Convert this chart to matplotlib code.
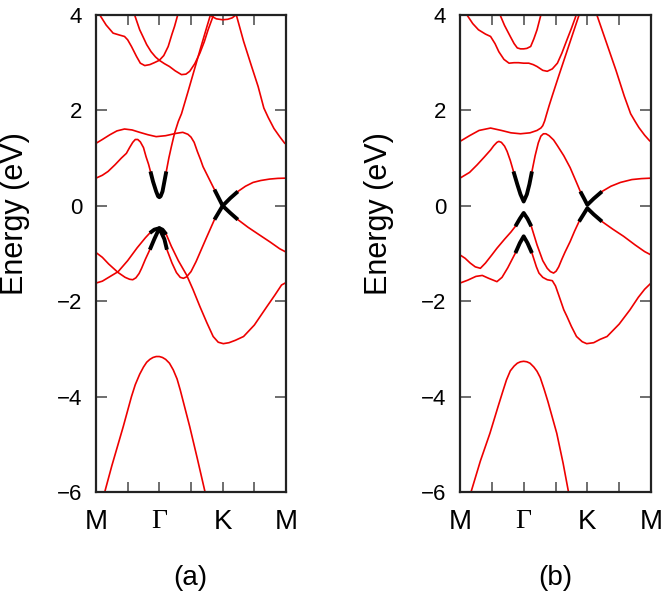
import matplotlib
matplotlib.use('Agg')
import matplotlib.pyplot as plt

# ------------------------------------------------------------
# Band data (k-path: M=0, Gamma=1, K=2, M=3)
# ------------------------------------------------------------

# ---- panel (a) ----
a_top1_x = [0, 0.06, 0.16, 0.27, 0.37, 0.45, 0.5, 0.56, 0.64, 0.7, 0.77, 0.85, 0.92, 1.0,
            1.08, 1.16, 1.25, 1.35, 1.42, 1.48, 1.56, 1.64, 1.71, 1.77, 1.85, 1.9]
a_top1_y = [4.12, 4.0, 3.79, 3.62, 3.58, 3.55, 3.48, 3.34, 3.13, 2.99, 2.94, 2.96, 3.0, 3.05,
            2.98, 2.92, 2.83, 2.75, 2.76, 2.82, 2.98, 3.2, 3.44, 3.69, 3.98, 4.2]

a_top2_x = [0.58, 0.61, 0.69, 0.74, 0.8, 0.87, 0.94, 1.0, 1.07, 1.14, 1.2, 1.24, 1.29, 1.32]
a_top2_y = [4.2, 4.0, 3.69, 3.55, 3.38, 3.23, 3.12, 3.05, 3.15, 3.34, 3.6, 3.76, 4.0, 4.2]

a_top3_x = [1.78, 1.83, 1.9, 2.0, 2.08, 2.15, 2.21, 2.25]
a_top3_y = [4.15, 3.97, 3.92, 3.9, 3.91, 3.94, 4.0, 4.15]

a_top4_x = [2.17, 2.22, 2.33, 2.45, 2.56, 2.65, 2.72, 2.81, 2.9, 2.98, 3.0]
a_top4_y = [4.12, 3.98, 3.45, 2.95, 2.5, 2.05, 1.85, 1.62, 1.45, 1.31, 1.3]

a_cb_x = [0, 0.1, 0.19, 0.3, 0.4, 0.48, 0.53, 0.58, 0.62, 0.66, 0.7, 0.75, 0.79, 0.83, 0.86,
          0.9, 0.95, 0.98, 1.0, 1.02, 1.05, 1.08, 1.11, 1.15, 1.19, 1.24, 1.3, 1.35, 1.45, 1.55,
          1.65, 1.75, 1.8, 1.84]
a_cb_y = [0.58, 0.64, 0.72, 0.86, 1.0, 1.1, 1.22, 1.33, 1.39, 1.39, 1.34, 1.22, 1.03, 0.87, 0.72,
          0.51, 0.3, 0.2, 0.18, 0.2, 0.3, 0.51, 0.72, 1.0, 1.24, 1.52, 1.77, 1.93, 2.38, 2.84,
          3.3, 3.75, 3.97, 4.15]

a_d_x = [0, 0.1, 0.22, 0.33, 0.45, 0.57, 0.69, 0.82, 0.95, 1.1, 1.27, 1.37, 1.45, 1.5, 1.55,
         1.6, 1.65, 1.69, 1.78, 1.87, 2.0, 2.12, 2.24, 2.4, 2.58, 2.75, 2.9, 3.0]
a_d_y = [1.31, 1.39, 1.49, 1.57, 1.61, 1.59, 1.54, 1.49, 1.45, 1.47, 1.52, 1.54, 1.5, 1.44, 1.33,
         1.14, 0.97, 0.82, 0.58, 0.34, 0.0, -0.15, -0.29, -0.45, -0.61, -0.76, -0.9, -0.97]

a_v1_x = [0, 0.1, 0.2, 0.35, 0.5, 0.65, 0.78, 0.85, 0.92, 1.0, 1.05, 1.11, 1.19, 1.3, 1.43,
          1.53, 1.64, 1.75, 1.85, 1.93, 2.01, 2.1, 2.2, 2.33, 2.5, 2.7, 2.82, 2.93, 3.0]
a_v1_y = [-1.62, -1.58, -1.5, -1.38, -1.15, -0.88, -0.67, -0.57, -0.5, -0.47, -0.5, -0.6, -0.85,
          -1.15, -1.45, -1.75, -2.11, -2.45, -2.74, -2.86, -2.89, -2.87, -2.82, -2.74, -2.5,
          -2.11, -1.88, -1.66, -1.61]

a_v2_x = [0, 0.1, 0.2, 0.35, 0.46, 0.53, 0.58, 0.63, 0.68, 0.72, 0.78, 0.85, 0.92, 1.0, 1.08,
          1.12, 1.2, 1.27, 1.33, 1.38, 1.43, 1.5, 1.58, 1.74, 1.87, 2.0, 2.12, 2.24, 2.36, 2.48,
          2.6, 2.74, 2.87, 3.0]
a_v2_y = [-0.98, -1.08, -1.22, -1.4, -1.5, -1.54, -1.55, -1.51, -1.42, -1.31, -1.12, -0.92, -0.7,
          -0.47, -0.7, -0.92, -1.2, -1.4, -1.5, -1.52, -1.49, -1.38, -1.17, -0.68, -0.29, 0.0,
          0.16, 0.3, 0.41, 0.49, 0.53, 0.56, 0.575, 0.58]

a_deep_x = [0.1, 0.14, 0.25, 0.43, 0.56, 0.62, 0.69, 0.75, 0.8, 0.85, 0.9, 0.95, 1.0, 1.05,
            1.1, 1.16, 1.22, 1.28, 1.33, 1.48, 1.6, 1.72, 1.75]
a_deep_y = [-6.15, -5.99, -5.45, -4.63, -4.0, -3.75, -3.53, -3.38, -3.28, -3.22, -3.18, -3.16,
            -3.16, -3.18, -3.22, -3.3, -3.44, -3.63, -3.86, -4.63, -5.3, -5.99, -6.15]

# black (highlighted) pieces, panel (a)
a_hl_cb_x = [0.86, 0.9, 0.95, 0.98, 1.0, 1.02, 1.05, 1.08, 1.11]
a_hl_cb_y = [0.72, 0.51, 0.3, 0.2, 0.18, 0.2, 0.3, 0.51, 0.72]
a_hl_v1_x = [0.85, 0.92, 1.0, 1.05, 1.11]
a_hl_v1_y = [-0.57, -0.5, -0.47, -0.5, -0.6]
a_hl_v2_x = [0.85, 0.92, 1.0, 1.08, 1.12]
a_hl_v2_y = [-0.92, -0.7, -0.47, -0.7, -0.92]
a_hl_k1_x = [1.87, 2.0, 2.12, 2.24]
a_hl_k1_y = [0.34, 0.0, -0.15, -0.29]
a_hl_k2_x = [1.87, 2.0, 2.12, 2.24]
a_hl_k2_y = [-0.29, 0.0, 0.16, 0.3]

# ---- panel (b) ----
b_top1_x = [0, 0.11, 0.2, 0.29, 0.4, 0.48, 0.55, 0.61, 0.69, 0.77, 0.85, 0.92, 1.0, 1.08, 1.15,
            1.21, 1.3, 1.37, 1.45, 1.53, 1.6, 1.68, 1.75, 1.81, 1.85]
b_top1_y = [4.15, 4.0, 3.82, 3.69, 3.6, 3.55, 3.4, 3.23, 3.07, 2.99, 3.0, 3.0, 2.99, 2.99, 2.96,
            2.92, 2.84, 2.82, 2.87, 2.99, 3.2, 3.48, 3.72, 3.94, 4.1]

b_top2_x = [0.6, 0.63, 0.7, 0.79, 0.85, 0.9, 0.95, 1.0, 1.05, 1.11, 1.16, 1.21, 1.27, 1.3]
b_top2_y = [4.2, 4.0, 3.78, 3.55, 3.4, 3.31, 3.29, 3.29, 3.3, 3.34, 3.5, 3.69, 4.0, 4.2]

b_top4_x = [2.12, 2.15, 2.3, 2.45, 2.58, 2.68, 2.75, 2.81, 2.9, 2.98, 3.0]
b_top4_y = [4.12, 4.0, 3.42, 2.84, 2.3, 1.93, 1.77, 1.64, 1.48, 1.36, 1.35]

b_cb_x = [0, 0.15, 0.27, 0.38, 0.48, 0.53, 0.58, 0.61, 0.65, 0.7, 0.74, 0.79, 0.84, 0.9, 0.95,
          1.0, 1.05, 1.09, 1.13, 1.18, 1.23, 1.27, 1.31, 1.35, 1.4, 1.47, 1.53, 1.63, 1.73,
          1.82, 1.89, 1.95, 2.0, 2.1, 2.23, 2.37, 2.52, 2.7, 2.85, 3.0]
b_cb_y = [0.58, 0.7, 0.86, 1.02, 1.17, 1.26, 1.33, 1.35, 1.33, 1.25, 1.14, 0.95, 0.72, 0.45,
          0.24, 0.09, 0.24, 0.45, 0.72, 1.05, 1.32, 1.46, 1.51, 1.51, 1.47, 1.38, 1.26, 1.05,
          0.8, 0.52, 0.3, 0.15, 0.02, 0.15, 0.3, 0.41, 0.49, 0.55, 0.57, 0.58]

b_d_x = [0, 0.15, 0.3, 0.48, 0.65, 0.8, 0.95, 1.1, 1.21, 1.27, 1.3, 1.33, 1.36, 1.4, 1.45,
         1.55, 1.65, 1.75, 1.87, 1.9]
b_d_y = [1.35, 1.47, 1.58, 1.63, 1.58, 1.53, 1.51, 1.53, 1.58, 1.63, 1.68, 1.78, 1.92, 2.1, 2.31,
         2.72, 3.12, 3.52, 4.0, 4.12]

b_v1_x = [0, 0.08, 0.16, 0.24, 0.32, 0.4, 0.5, 0.58, 0.7, 0.8, 0.87, 0.94, 1.0, 1.06, 1.12,
          1.21, 1.3, 1.37, 1.42, 1.47, 1.51, 1.55, 1.6, 1.65, 1.73, 1.8, 1.87, 1.94, 2.0, 2.1,
          2.23, 2.4, 2.57, 2.75, 2.9, 3.0]
b_v1_y = [-1.03, -1.1, -1.2, -1.28, -1.31, -1.2, -1.03, -0.89, -0.7, -0.55, -0.43, -0.27, -0.15,
          -0.27, -0.43, -0.82, -1.15, -1.31, -1.38, -1.41, -1.37, -1.28, -1.12, -0.97, -0.75,
          -0.53, -0.33, -0.18, -0.05, -0.18, -0.33, -0.49, -0.64, -0.82, -0.96, -1.03]

b_v2_x = [0, 0.12, 0.25, 0.35, 0.45, 0.58, 0.66, 0.75, 0.87, 0.94, 1.0, 1.06, 1.13, 1.2, 1.24,
          1.3, 1.37, 1.45, 1.5, 1.55, 1.63, 1.68, 1.75, 1.83, 1.92, 1.99, 2.1, 2.2, 2.31, 2.5,
          2.67, 2.8, 2.9, 3.0]
b_v2_y = [-1.62, -1.56, -1.48, -1.46, -1.52, -1.59, -1.5, -1.3, -0.99, -0.78, -0.64, -0.78, -0.99,
          -1.28, -1.41, -1.5, -1.55, -1.57, -1.68, -1.87, -2.18, -2.32, -2.53, -2.74, -2.85,
          -2.89, -2.87, -2.8, -2.74, -2.48, -2.18, -1.92, -1.75, -1.62]

b_deep_x = [0.14, 0.18, 0.32, 0.47, 0.6, 0.67, 0.73, 0.79, 0.85, 0.9, 0.95, 1.0, 1.05, 1.1,
            1.16, 1.21, 1.26, 1.32, 1.38, 1.52, 1.62, 1.7, 1.73]
b_deep_y = [-6.15, -5.97, -5.35, -4.77, -4.2, -3.9, -3.65, -3.46, -3.36, -3.3, -3.27, -3.26,
            -3.27, -3.3, -3.38, -3.47, -3.6, -3.84, -4.1, -4.77, -5.4, -5.97, -6.15]

# black (highlighted) pieces, panel (b)
b_hl_cb_x = [0.84, 0.9, 0.95, 1.0, 1.05, 1.09, 1.13]
b_hl_cb_y = [0.72, 0.45, 0.24, 0.09, 0.24, 0.45, 0.72]
b_hl_v1_x = [0.87, 0.94, 1.0, 1.06, 1.12]
b_hl_v1_y = [-0.43, -0.27, -0.15, -0.27, -0.43]
b_hl_v2_x = [0.87, 0.94, 1.0, 1.06, 1.13]
b_hl_v2_y = [-0.99, -0.78, -0.64, -0.78, -0.99]
b_hl_k1_x = [1.89, 1.95, 2.0, 2.1, 2.23]
b_hl_k1_y = [0.3, 0.15, 0.02, 0.15, 0.3]
b_hl_k2_x = [1.87, 1.94, 2.0, 2.1, 2.23]
b_hl_k2_y = [-0.33, -0.18, -0.05, -0.18, -0.33]

kpath_pos = [0, 1, 2, 3]
kpath_labels = ['M', '\u0393', 'K', 'M']
energy_ticks = [-6, -4, -2, 0, 2, 4]

a_bands = [(a_top1_x, a_top1_y), (a_top2_x, a_top2_y), (a_top3_x, a_top3_y),
           (a_top4_x, a_top4_y), (a_cb_x, a_cb_y), (a_d_x, a_d_y),
           (a_v1_x, a_v1_y), (a_v2_x, a_v2_y), (a_deep_x, a_deep_y)]
a_black = [(a_hl_cb_x, a_hl_cb_y), (a_hl_v1_x, a_hl_v1_y), (a_hl_v2_x, a_hl_v2_y),
           (a_hl_k1_x, a_hl_k1_y), (a_hl_k2_x, a_hl_k2_y)]
b_bands = [(b_top1_x, b_top1_y), (b_top2_x, b_top2_y), (b_top4_x, b_top4_y),
           (b_cb_x, b_cb_y), (b_d_x, b_d_y), (b_v1_x, b_v1_y), (b_v2_x, b_v2_y),
           (b_deep_x, b_deep_y)]
b_black = [(b_hl_cb_x, b_hl_cb_y), (b_hl_v1_x, b_hl_v1_y), (b_hl_v2_x, b_hl_v2_y),
           (b_hl_k1_x, b_hl_k1_y), (b_hl_k2_x, b_hl_k2_y)]

plt.rcParams['font.family'] = ['Liberation Sans', 'DejaVu Sans']

fig = plt.figure(figsize=(6.66, 5.95), dpi=100)
ax_a = fig.add_axes([96 / 666, 1 - 492 / 595, 190 / 666, 477 / 595])
ax_b = fig.add_axes([460 / 666, 1 - 492 / 595, 191 / 666, 477 / 595])


def draw_panel(ax, bands, black, tag, tag_x):
    for bx, by in bands:
        ax.plot(bx, by, color='#ee0000', lw=1.2, solid_joinstyle='round')
    for bx, by in black:
        ax.plot(bx, by, color='black', lw=2.8, solid_capstyle='butt')

    ax.set_xlim(0, 3)
    ax.set_ylim(-6, 4)
    ax.set_xticks(kpath_pos)
    ax.set_xticks([0.5, 1.5, 2.5], minor=True)
    ax.set_xticklabels(kpath_labels, fontsize=20)
    for lab in ax.get_xticklabels():
        if lab.get_text() == '\u0393':
            lab.set_family(['Liberation Serif', 'DejaVu Serif'])
    ax.set_yticks(energy_ticks)
    ax.set_yticklabels([str(t).replace('-', '\u2212') for t in energy_ticks], fontsize=16)

    ax.tick_params(axis='both', which='both', direction='in', top=True, right=True,
                   color='#555555', width=1.2)
    ax.tick_params(axis='y', which='major', length=8, pad=10)
    ax.tick_params(axis='x', which='both', length=7, pad=12)
    for sp in ax.spines.values():
        sp.set_linewidth(1.6)
        sp.set_color('#222222')

    ax.set_ylabel('Energy (eV)', fontsize=22)
    ax.yaxis.set_label_coords(-0.345, 0.583)
    fig.text(tag_x, 1 - 578 / 595, tag, fontsize=20, ha='center', va='center')


draw_panel(ax_a, a_bands, a_black, '(a)', 190 / 666)
draw_panel(ax_b, b_bands, b_black, '(b)', 555 / 666)

plt.savefig('out.png', dpi=100)
